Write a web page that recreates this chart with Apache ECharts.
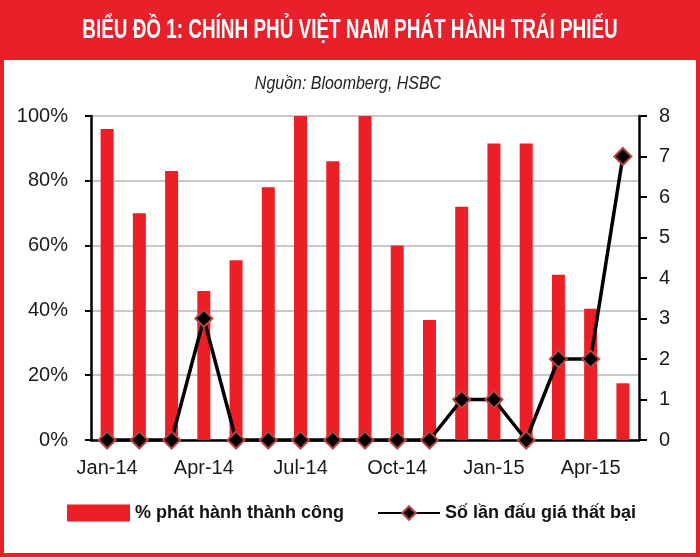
<!DOCTYPE html>
<html>
<head>
<meta charset="utf-8">
<script src="https://cdn.jsdelivr.net/npm/echarts@6/dist/echarts.min.js"></script>
<style>
  html, body { margin: 0; padding: 0; background: #fff; }
  #chart { width: 700px; height: 557px; }
</style>
</head>
<body>
<div id="chart"></div>
<script>
// months Jan-14 .. May-15
var months = ['Jan-14', 'Feb-14', 'Mar-14', 'Apr-14', 'May-14', 'Jun-14', 'Jul-14', 'Aug-14', 'Sep-14',
  'Oct-14', 'Nov-14', 'Dec-14', 'Jan-15', 'Feb-15', 'Mar-15', 'Apr-15', 'May-15']
// % phát hành thành công
var successPct = [96, 70, 83, 46, 55.5, 78, 100, 86, 100, 60, 37, 72, 91.5, 91.5, 51, 40.5, 17.5]
// số lần đấu giá thất bại
var failedAuctions = [0, 0, 0, 3, 0, 0, 0, 0, 0, 0, 0, 1, 1, 0, 2, 2, 7]
var pctTicks = [0, 20, 40, 60, 80, 100]
var countTicks = [0, 1, 2, 3, 4, 5, 6, 7, 8]

var font = "'Liberation Sans', Arial, sans-serif"
var red = '#ec1f26'

var chart = echarts.init(document.getElementById('chart'))
chart.setOption({
  animation: false,
  graphic: [
    { type: 'rect', shape: { x: 0, y: 0, width: 700, height: 60 }, style: { fill: '#e8202a' }, z: -1 },
    { type: 'rect', shape: { x: 2, y: 2, width: 696, height: 553 }, style: { fill: 'none', stroke: '#e8202a', lineWidth: 4 }, z: -1 },
    // title, squeezed to look like the condensed font of the original
    {
      type: 'text', x: 350, y: 31, scaleX: 0.7,
      style: {
        text: 'BIỂU ĐỒ 1: CHÍNH PHỦ VIỆT NAM PHÁT HÀNH TRÁI PHIẾU',
        fill: '#fff', font: 'bold 27px ' + font, textAlign: 'center', textVerticalAlign: 'middle'
      }
    },
    {
      type: 'text', x: 348, y: 84, scaleX: 0.84,
      style: {
        text: 'Nguồn: Bloomberg, HSBC',
        fill: '#222', font: 'italic 19px ' + font, textAlign: 'center', textVerticalAlign: 'middle'
      }
    }
  ],
  legend: [
    {
      data: [{ name: '% phát hành thành công', icon: 'rect' }],
      left: 62, top: 499,
      itemWidth: 63, itemHeight: 17, itemGap: 6,
      textStyle: { color: '#111', fontFamily: font, fontWeight: 'bold', fontSize: 18 }
    },
    {
      data: ['Số lần đấu giá thất bại'],
      left: 372, top: 499,
      itemWidth: 62, itemHeight: 17,
      textStyle: { color: '#111', fontFamily: font, fontWeight: 'bold', fontSize: 18 }
    }
  ],
  grid: { left: 91, right: 61, top: 116, bottom: 117, containLabel: false },
  xAxis: {
    type: 'category',
    data: months,
    axisLine: { lineStyle: { color: '#000', width: 2.5 } },
    axisTick: { interval: 2, length: 6, lineStyle: { color: '#000', width: 2 } },
    axisLabel: {
      interval: 2, margin: 18, color: '#1a1a1a', fontFamily: font, fontSize: 20
    }
  },
  yAxis: [
    {
      type: 'value', min: pctTicks[0], max: pctTicks[pctTicks.length - 1], interval: 20,
      axisLine: { show: true, lineStyle: { color: '#000', width: 2.5 } },
      axisTick: { show: true, length: 6, lineStyle: { color: '#000', width: 2 } },
      axisLabel: { formatter: '{value}%', margin: 23, color: '#1a1a1a', fontFamily: font, fontSize: 20 },
      splitLine: { lineStyle: { color: '#c8c8c8', width: 2 } }
    },
    {
      type: 'value', min: countTicks[0], max: countTicks[countTicks.length - 1], interval: 1,
      axisLine: { show: true, lineStyle: { color: '#000', width: 2.5 } },
      axisTick: { show: true, length: 8, lineStyle: { color: '#000', width: 2 } },
      axisLabel: { margin: 20, color: '#1a1a1a', fontFamily: font, fontSize: 20 },
      splitLine: { show: false }
    }
  ],
  series: [
    {
      name: '% phát hành thành công',
      type: 'bar',
      data: successPct,
      barWidth: 13,
      itemStyle: { color: red }
    },
    {
      name: 'Số lần đấu giá thất bại',
      type: 'line',
      yAxisIndex: 1,
      data: failedAuctions,
      symbol: 'diamond',
      symbolSize: 17,
      lineStyle: { color: '#000', width: 3.5 },
      itemStyle: { color: '#000', borderColor: '#b8443f', borderWidth: 2 },
      z: 5
    }
  ]
})
</script>
</body>
</html>
